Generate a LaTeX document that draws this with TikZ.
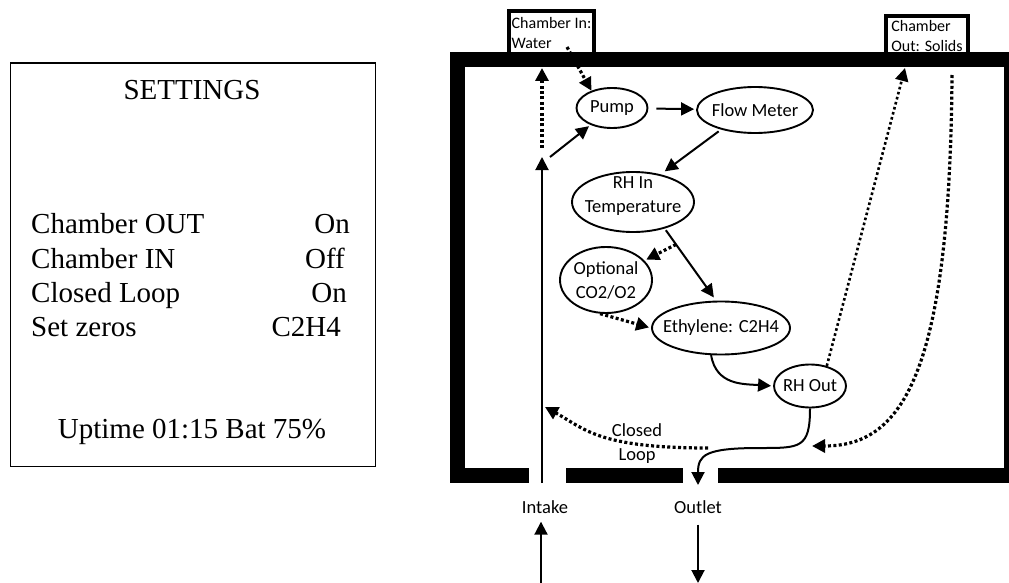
\documentclass[tikz,border=0pt]{standalone}
\usepackage{fontspec}
\setmainfont{Liberation Serif}
\newfontfamily\labelfont{Carlito}
\usepackage{tikz}
\usetikzlibrary{shapes,arrows.meta,positioning,calc}

\begin{document}
\begin{tikzpicture}[x=1pt,y=-1pt,
  panel/.style={font=\fontsize{29}{34}\selectfont, inner sep=0pt},
  unit/.style={draw, ellipse, line width=1.9pt, inner xsep=-30pt, inner ysep=-5pt,
    align=center, font=\labelfont\fontsize{18.5}{24}\selectfont},
  port/.style={draw, line width=4pt, fill=white, anchor=north west, align=left,
    inner xsep=2pt, inner ysep=0pt, font=\labelfont\fontsize{16}{20}\selectfont},
  tag/.style={font=\labelfont\fontsize{18.5}{24}\selectfont, align=center, inner sep=0pt},
  flow/.style={-{Triangle[length=13pt,width=13pt]}, line width=2pt},
  leak/.style={flow, line width=3.2pt, dash pattern=on 3pt off 2.4pt},
  >=Stealth
]
\useasboundingbox (0,0) rectangle (1009,583);

% settings screen
\node[draw, line width=1.3pt, anchor=north west, inner sep=0pt,
  minimum width=365pt, minimum height=403pt] (screen) at (9.5,62.5) {};
\node[panel, anchor=base] (title) at (192,100) {SETTINGS};
\node[panel, anchor=base west] (out) at (31,233) {Chamber OUT};
\node[panel, anchor=base west] (in) at (31,268) {Chamber IN};
\node[panel, anchor=base west] (loop) at (31,302) {Closed Loop};
\node[panel, anchor=base west] (zero) at (31,336) {Set zeros};
\node[panel, anchor=base east] (outval) at (350,233) {On};
\node[panel, anchor=base east] (inval) at (345,268) {Off};
\node[panel, anchor=base east] (loopval) at (347,302) {On};
\node[panel, anchor=base east] (zeroval) at (341,336) {C2H4};
\node[panel, anchor=base] (status) at (192,438) {Uptime 01:15 Bat 75\%};

% chamber
\node[port, minimum width=85pt, minimum height=45pt] (inbox) at (507,9) {Chamber In:\\Water};
\node[port, minimum width=82pt, minimum height=40pt] (outbox) at (884,14) {Chamber\\Out: Solids};
\fill (450,52) rectangle (1009,67);
\fill (450,52) rectangle (465,483);
\fill (1004,52) rectangle (1009,483);
\foreach \a/\b in {450/529,566/683,718/1009}
  \fill (\a,468) rectangle (\b,483);

\node[unit, minimum width=71pt, minimum height=40pt] (pump) at (612,108) {Pump};
\node[unit, minimum width=116pt, minimum height=46pt] (meter) at (755,110) {Flow Meter};
\node[unit, minimum width=122pt, minimum height=60pt] (rhin) at (633,202) {RH In\\Temperature\\[-10pt]};
\node[unit, minimum width=92pt, minimum height=66pt] (opt) at (606,280) {Optional\\CO2/O2};
\node[unit, minimum width=138pt, minimum height=53pt] (eth) at (721,328) {Ethylene: C2H4};
\node[unit, minimum width=72pt, minimum height=43pt] (rhout) at (810,386) {RH Out};

\node[tag] (looptag) at (637,444) {Closed\\Loop};
\node[tag] (intake) at (545,507) {Intake};
\node[tag] (outlet) at (698,507) {Outlet};

\coordinate (inlet) at (542,483);
\coordinate (fork) at (542,157);
\coordinate (forkup) at (542,148);
\coordinate (forkside) at (550,157);
\coordinate (recycle) at (542,68);
\coordinate (water) at (567,47);
\coordinate (solidsin) at (905,68);
\coordinate (solidsout) at (952,75);
\coordinate (join) at (812,446);
\coordinate (bend) at (760,448);
\coordinate (loopstart) at (708,448);
\coordinate (loopend) at (545,407);
\coordinate (outfall) at (698,485);
\coordinate (feed) at (541,583);
\coordinate (drain) at (698,583);

\draw[flow] (inlet) -- (fork);
\draw[leak] (forkup) -- (recycle);
\draw[flow, shorten >=2pt] (forkside) -- (pump);
\draw[leak] (water) -- (pump.140);
\draw[flow, shorten <=8pt, shorten >=2pt] (pump) -- (meter);
\draw[flow, shorten <=3pt, shorten >=5pt] (meter.210) -- (rhin.45);
\draw[flow, shorten <=2pt, shorten >=4pt] (rhin.320) -- (eth.100);
\draw[leak, shorten >=2pt] ($(rhin.320)!0.22!(eth.100)$) -- (opt);
\draw[leak, shorten >=2pt] (opt.260) -- (eth.west);
\draw[flow, shorten >=2pt] (eth.250) .. controls +(5,30) and +(-30,-2) .. (rhout.west);
\draw[flow] (rhout.south) .. controls +(0,40) and +(40,0) .. (bend)
  .. controls +(-55,0) and +(0,-30) .. (outfall);
\draw[leak, line width=2.6pt, dash pattern=on 2.6pt off 2.6pt] (rhout.50) -- (solidsin);
\draw[leak] (solidsout) .. controls +(-2,305) and +(88,0) .. (join);
\draw[leak] (loopstart) .. controls +(-110,0) and +(40,22) .. (loopend);
\draw[flow, shorten >=8pt] (feed) -- (feed |- intake.south);
\draw[flow, shorten <=11pt] (outlet.south) -- (drain);
\end{tikzpicture}
\end{document}
